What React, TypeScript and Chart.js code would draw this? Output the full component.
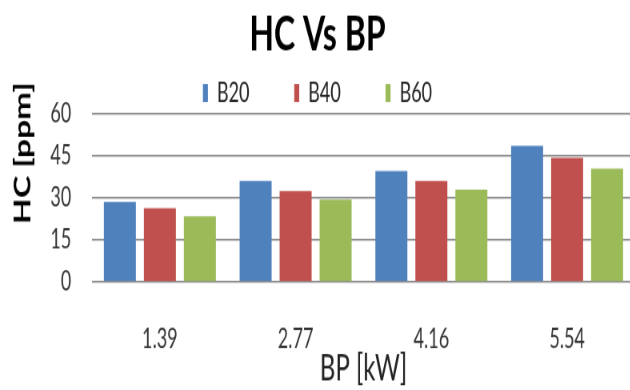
import React, { useEffect, useRef } from "react";
import { Chart, registerables } from "chart.js";

Chart.register(...registerables);

// Brake power categories and HC readings per blend
const categories = ["1.39", "2.77", "4.16", "5.54"];
const seriesNames = ["B20", "B40", "B60"];
const b20Values = [28.6, 36.1, 39.6, 48.6];
const b40Values = [26.4, 32.4, 36.1, 44.3];
const b60Values = [23.5, 29.5, 33.0, 40.5];
const yTicks = [0, 15, 30, 45, 60];

const seriesColors = ["#4F81BD", "#C0504D", "#9BBB59"];

// the canvas is drawn wide and short, then squeezed/stretched into place
const SCALE_X = 0.8;
const SCALE_Y = 1.2;
const CANVAS_W = 800;
const CANVAS_H = 325;

const face = "Lato, 'Open Sans', 'Liberation Sans', sans-serif";

export default function App() {
  const canvasRef = useRef<HTMLCanvasElement | null>(null);

  useEffect(() => {
    const canvas = canvasRef.current;
    if (!canvas) return;
    const values = [b20Values, b40Values, b60Values];
    const chart = new Chart(canvas, {
      type: "bar",
      data: {
        labels: categories,
        datasets: seriesNames.map((name, i) => ({
          label: name,
          data: values[i],
          backgroundColor: seriesColors[i],
          borderWidth: 0,
          categoryPercentage: 0.884,
          barPercentage: 0.8,
        })),
      },
      options: {
        responsive: false,
        animation: false,
        devicePixelRatio: 1,
        layout: { padding: { top: 0, right: 6.25, bottom: 0, left: 0 } },
        plugins: {
          title: {
            display: true,
            text: "HC Vs BP",
            color: "#000",
            font: { family: face, size: 40, weight: "bold", lineHeight: 1 },
            padding: { top: 9.2, bottom: -39 },
          },
          legend: {
            display: true,
            position: "top",
            maxHeight: 84.75,
            labels: {
              color: "#222",
              font: { family: face, size: 22.5 },
              boxWidth: 6.25,
              boxHeight: 15,
              padding: 56,
            },
          },
          tooltip: { enabled: false },
        },
        scales: {
          x: {
            grid: { display: false, drawTicks: false },
            border: { display: false },
            ticks: {
              color: "#333",
              font: { family: face, size: 22.5 },
              padding: 34,
              maxRotation: 0,
            },
            title: {
              display: true,
              text: "BP [kW]",
              color: "#222",
              font: { family: face, size: 30 },
              padding: { top: 0, bottom: -0.5 },
            },
            afterFit: (scale: any) => {
              scale.height = 90;
            },
          },
          y: {
            min: 0,
            max: 60,
            afterBuildTicks: (scale: any) => {
              scale.ticks = yTicks.map((v) => ({ value: v }));
            },
            grid: {
              color: "#8c8c8c",
              lineWidth: 1.6,
              drawTicks: false,
            },
            border: { display: false },
            ticks: {
              color: "#333",
              font: { family: face, size: 22.5 },
              padding: 26,
            },
            title: {
              display: true,
              text: "           HC [ppm]",
              color: "#000",
              font: { family: face, size: 28, weight: "bold" },
              padding: { top: 12, bottom: 0 },
            },
            afterFit: (scale: any) => {
              scale.width = 115;
            },
          },
        },
      },
    });
    return () => chart.destroy();
  }, []);

  return (
    <div
      style={{
        position: "fixed",
        left: 0,
        top: 0,
        width: 630,
        height: 390,
        overflow: "hidden",
        background: "#fff",
      }}
    >
      <div
        style={{
          width: CANVAS_W,
          height: CANVAS_H,
          transform: `scale(${SCALE_X}, ${SCALE_Y})`,
          transformOrigin: "0 0",
        }}
      >
        <canvas ref={canvasRef} width={CANVAS_W} height={CANVAS_H} />
      </div>
    </div>
  );
}
